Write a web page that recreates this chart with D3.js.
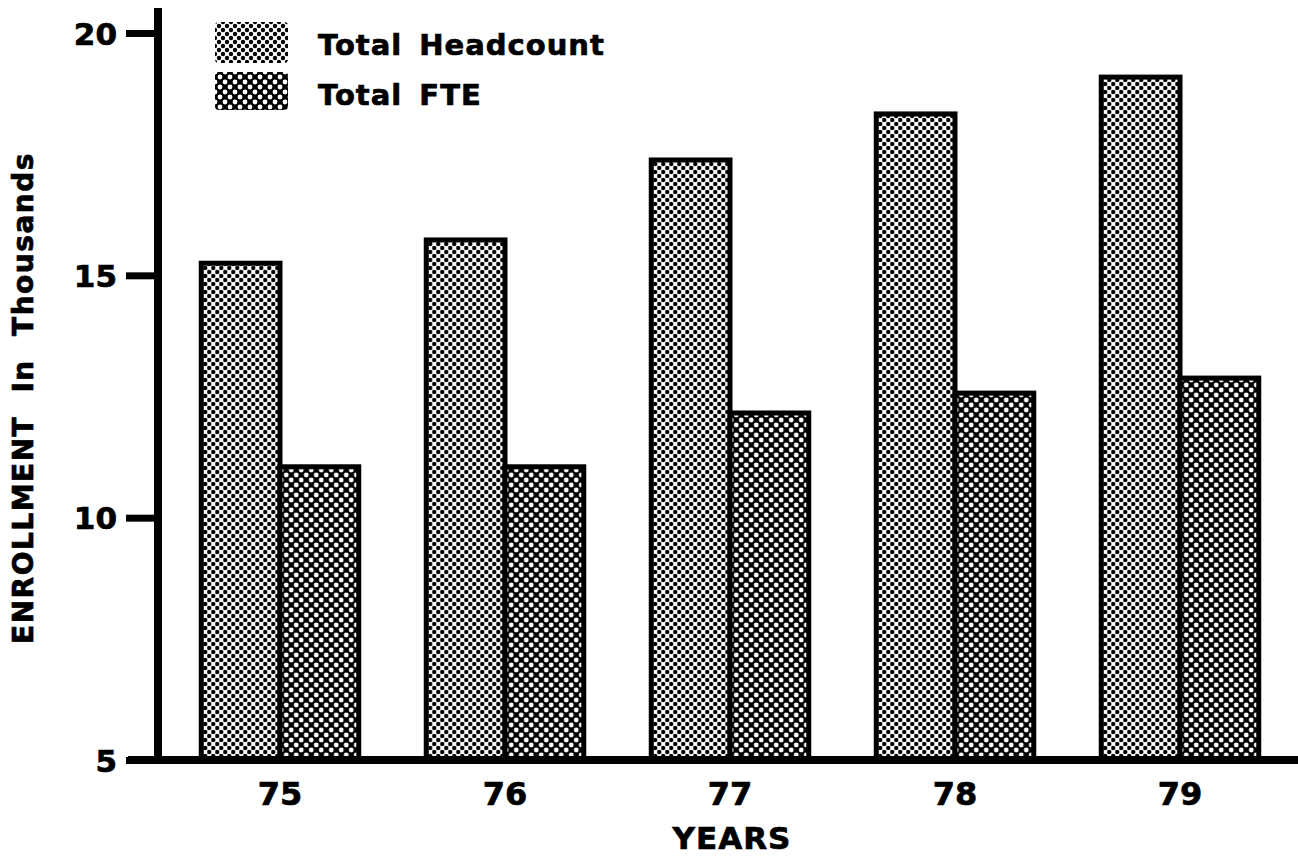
<!DOCTYPE html>
<html>
<head>
<meta charset="utf-8">
<script src="https://cdn.jsdelivr.net/npm/d3@7"></script>
<style>
  body { margin: 0; background: #fff; }
  svg { display: block; }
  text { font-family: "DejaVu Sans", Verdana, sans-serif; font-weight: bold; fill: #000;
         stroke: #000; stroke-width: 0.7px; }
</style>
</head>
<body>
<svg id="chart" width="1298" height="865"></svg>
<script>
// enrollment, in thousands
var years = ["75", "76", "77", "78", "79"];
var headcount = [15.25, 15.73, 17.38, 18.33, 19.09];
var fte = [11.05, 11.05, 12.16, 12.57, 12.88];
var series = ["Total Headcount", "Total FTE"];
var yTicks = [5, 10, 15, 20];

var svg = d3.select("#chart");

// halftone fills
var defs = svg.append("defs");
var hc = defs.append("pattern").attr("id", "dots").attr("patternUnits", "userSpaceOnUse")
    .attr("width", 8).attr("height", 8);
hc.append("rect").attr("width", 8).attr("height", 8).attr("fill", "#fff");
[[0,0],[8,0],[0,8],[8,8],[4,4]].forEach(function(p) {
  hc.append("circle").attr("cx", p[0]).attr("cy", p[1]).attr("r", 2.2).attr("fill", "#000");
});
var ft = defs.append("pattern").attr("id", "holes").attr("patternUnits", "userSpaceOnUse")
    .attr("width", 10).attr("height", 10);
ft.append("rect").attr("width", 10).attr("height", 10).attr("fill", "#000");
[[0,0],[10,0],[0,10],[10,10],[5,5]].forEach(function(p) {
  ft.append("circle").attr("cx", p[0]).attr("cy", p[1]).attr("r", 2.4).attr("fill", "#fff");
});
var fills = ["url(#dots)", "url(#holes)"];

var x0 = d3.scaleBand().domain(years).range([167.5, 1292.5]).paddingInner(0.3).paddingOuter(0.15);
var x1 = d3.scaleBand().domain(series).range([0, x0.bandwidth()]);
var y = d3.scaleLinear().domain([5, 20]).range([760, 33]);

var rows = years.map(function(yr, i) { return {year: yr, values: [headcount[i], fte[i]]}; });

var groups = svg.append("g").selectAll("g").data(rows).enter().append("g")
    .attr("transform", function(d) { return "translate(" + x0(d.year) + ",0)"; });

groups.selectAll("rect").data(function(d) {
    return d.values.map(function(v, j) { return {key: series[j], value: v, j: j}; });
  }).enter().append("rect")
    .attr("x", function(d) { return x1(d.key); })
    .attr("y", function(d) { return y(d.value); })
    .attr("width", x1.bandwidth())
    .attr("height", function(d) { return y(5) - y(d.value); })
    .attr("fill", function(d) { return fills[d.j]; })
    .attr("stroke", "#000")
    .attr("stroke-width", 5);

// y axis
var yAxis = svg.append("g").attr("transform", "translate(158,0)")
    .call(d3.axisLeft(y).tickValues(yTicks).tickSize(32).tickPadding(9));
yAxis.select(".domain").remove();
yAxis.selectAll(".tick line").attr("stroke", "#000").attr("stroke-width", 7);
yAxis.selectAll(".tick text").style("font-size", "31px").attr("dy", "0.36em");
svg.append("line").attr("x1", 158).attr("x2", 158).attr("y1", 8).attr("y2", 764)
    .attr("stroke", "#000").attr("stroke-width", 8);

// x axis
var xAxis = svg.append("g").attr("transform", "translate(0,760)")
    .call(d3.axisBottom(x0).tickSize(0).tickPadding(21));
xAxis.select(".domain").remove();
xAxis.selectAll(".tick text").style("font-size", "32px").attr("dy", "0.75em");
svg.append("line").attr("x1", 128).attr("x2", 1298).attr("y1", 760).attr("y2", 760)
    .attr("stroke", "#000").attr("stroke-width", 8);

svg.append("text").attr("x", 732).attr("y", 849).attr("text-anchor", "middle")
    .style("font-size", "31px").style("letter-spacing", "1px").text("YEARS");

svg.append("text").attr("transform", "translate(33,398) rotate(-90)")
    .attr("text-anchor", "middle").style("font-size", "28px")
    .style("letter-spacing", "1.5px").style("word-spacing", "12px")
    .text("ENROLLMENT In Thousands");

// legend
var legend = svg.append("g").selectAll("g").data(series).enter().append("g")
    .attr("transform", function(d, i) { return "translate(215," + (22 + i * 50) + ")"; });
legend.append("rect").attr("width", 73).attr("height", function(d, i) { return i ? 38 : 41; })
    .attr("rx", 4).attr("fill", function(d, i) { return fills[i]; });
legend.append("text").attr("x", 103).attr("y", 33).style("font-size", "29px")
    .style("letter-spacing", "1px").style("word-spacing", "6px").text(function(d) { return d; });
</script>
</body>
</html>
